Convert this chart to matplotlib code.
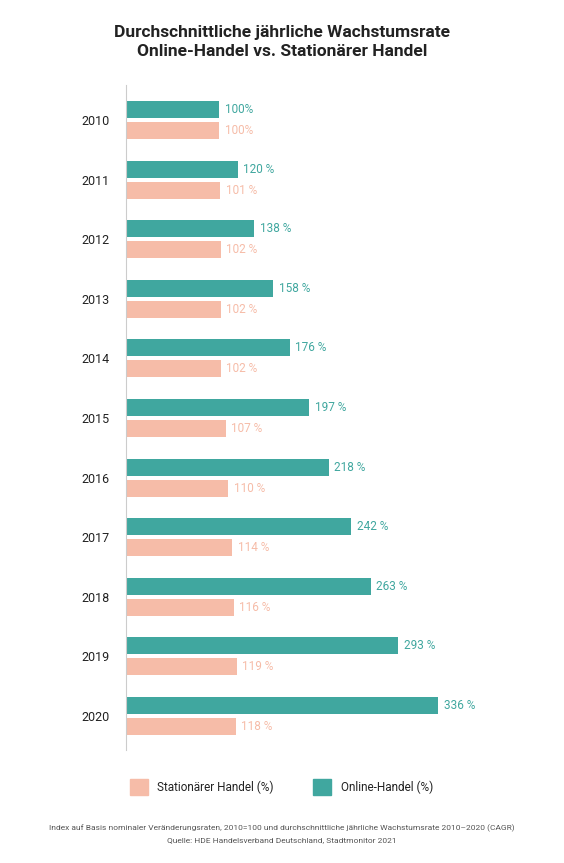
import matplotlib
matplotlib.use("Agg")
import matplotlib.pyplot as plt

plt.rcParams['font.family'] = ['Roboto', 'DejaVu Sans']

years = ["2010","2011","2012","2013","2014","2015","2016","2017","2018","2019","2020"]
online = [100,120,138,158,176,197,218,242,263,293,336]
stationaer = [100,101,102,102,102,107,110,114,116,119,118]

teal = "#40a79f"
salmon = "#f6bca8"

fig = plt.figure(figsize=(5.64, 8.63), dpi=100)
ax = fig.add_axes([126/564, 1-750/863, 394/564, 665/863])
ax.set_xlim(0, 394/0.93)
ax.set_ylim(10.57, -0.587)

h = 0.285
off = 0.176
ys = list(range(len(years)))
ax.barh([y-off for y in ys], online, height=h, color=teal)
ax.barh([y+off for y in ys], stationaer, height=h, color=salmon)
for i, (o, s) in enumerate(zip(online, stationaer)):
    fmt = "{}%" if i == 0 else "{} %"
    ax.text(o+6, i-off, fmt.format(o), color=teal, va='center', fontsize=8.5)
    ax.text(s+6, i+off, fmt.format(s), color=salmon, va='center', fontsize=8.5)

ax.set_yticks(ys)
ax.set_yticklabels(years, fontsize=9, color="#222222")
ax.tick_params(axis='y', length=0, pad=12)
ax.set_xticks([])
for sp in ["top", "right", "bottom"]:
    ax.spines[sp].set_visible(False)
ax.spines["left"].set_color("#cccccc")

fig.text(0.5, 1-32/863, "Durchschnittliche jährliche Wachstumsrate", ha='center', va='center',
         fontsize=12.5, fontweight='bold', color="#222222")
fig.text(0.5, 1-51/863, "Online-Handel vs. Stationärer Handel", ha='center', va='center',
         fontsize=12.5, fontweight='bold', color="#222222")

fig.patches.append(plt.Rectangle((130/564, 1-795/863), 18/564, 16/863, transform=fig.transFigure, color=salmon))
fig.text(157/564, 1-787/863, "Stationärer Handel (%)", va='center', fontsize=8.5, color="#222222")
fig.patches.append(plt.Rectangle((313/564, 1-795/863), 18/564, 16/863, transform=fig.transFigure, color=teal))
fig.text(341/564, 1-787/863, "Online-Handel (%)", va='center', fontsize=8.5, color="#222222")

fig.text(0.5, 1-828/863, "Index auf Basis nominaler Veränderungsraten, 2010=100 und durchschnittliche jährliche Wachstumsrate 2010–2020 (CAGR)",
         ha='center', va='center', fontsize=6, color="#555555")
fig.text(0.5, 1-840/863, "Quelle: HDE Handelsverband Deutschland, Stadtmonitor 2021",
         ha='center', va='center', fontsize=6, color="#555555")

fig.savefig("out.png", dpi=100, facecolor="white")
